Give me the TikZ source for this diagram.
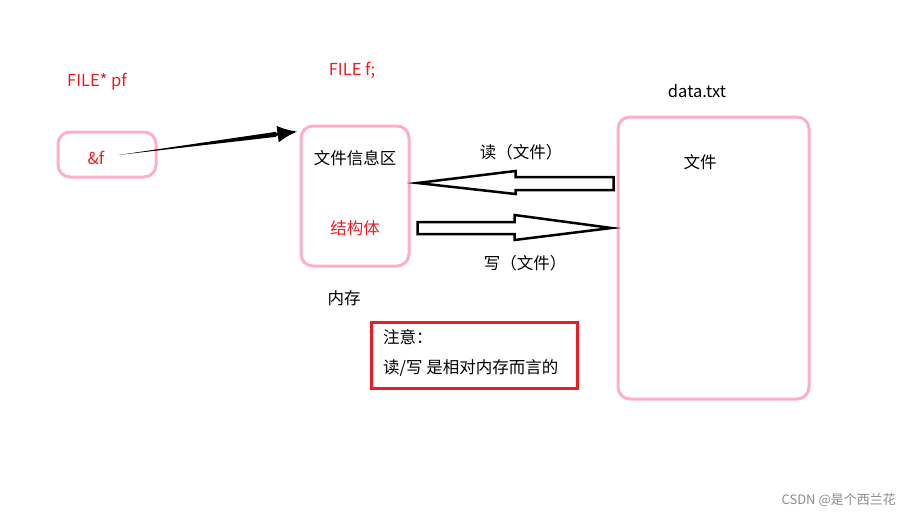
\documentclass[tikz,border=0pt]{standalone}
\usepackage{fontspec}
\setmainfont{Noto Sans CJK SC}
\usepackage{tikz}
\usetikzlibrary{positioning,arrows.meta,calc}
\definecolor{rose}{RGB}{255,174,201}
\definecolor{paintred}{RGB}{237,28,36}

\begin{document}
\begin{tikzpicture}[
  x=1pt, y=-1pt, >={Latex[length=20pt,width=17pt]},
  font=\fontsize{16.5}{20}\selectfont,
  mem/.style={draw=rose, line width=3pt, rounded corners=12pt, inner sep=0pt},
  lbl/.style={inner sep=0pt},
  hl/.style={lbl, text=paintred},
  blockarrow/.style={draw=black, line width=2.5pt, fill=white, line join=miter},
]
  \useasboundingbox (0,0) rectangle (900,527);

  % FILE* pf
  \node (pf-box)[mem, minimum width=98pt, minimum height=45pt] at (107,154.5) {};
  \node (pf-lbl)[hl] at (97,82) {FILE* pf};
  \node (amp)[hl] at (96,158) {\&f};

  % FILE f
  \node (info-box)[mem, minimum width=108pt, minimum height=140pt] at (355,196) {};
  \node (f-lbl)[hl] at (352,70) {FILE f;};
  \node (info)[lbl] at (355,158) {文件信息区};
  \node (struct)[hl] at (355,228) {结构体};
  \node (mem-lbl)[lbl] at (344,298) {内存};

  \coordinate (ptr-tail) at ($(amp.east)+(14,-3)$);
  \coordinate (ptr-tip) at ($(info-box.north west)+(-2,7)$);
  \fill (ptr-tail) -- ($(ptr-tail)!0.88!(ptr-tip)+(0,-2.5)$) -- ($(ptr-tail)!0.88!(ptr-tip)+(0,2.5)$) -- cycle;
  \draw[->, line width=3pt] ($(ptr-tail)!0.85!(ptr-tip)$) -- (ptr-tip);

  % data.txt
  \node (file-box)[mem, minimum width=191pt, minimum height=282pt] at (713.5,258) {};
  \node (data-lbl)[lbl] at (697,91) {data.txt};
  \node (file)[lbl] at (700,162) {文件};

  % read / write
  \coordinate (rd-tip) at ($(info-box.east)+(7,-13)$);
  \coordinate (wr-tip) at ($(file-box.west)+(-5,-30)$);
  \draw[blockarrow] (rd-tip) -- ++(98,-12) -- ++(0,6) -- ++(98,0) -- ++(0,13) -- ++(-98,0) -- ++(0,4) -- cycle;
  \draw[blockarrow] (wr-tip) -- ++(-97,-13) -- ++(0,7) -- ++(-97,0) -- ++(0,12) -- ++(97,0) -- ++(0,6) -- cycle;
  \node (rd-lbl)[lbl] at (521,152) {读（文件）};
  \node (wr-lbl)[lbl] at (525,263) {写（文件）};

  % note
  \node (note)[draw=paintred, line width=3pt, minimum width=206pt, minimum height=66pt] at (474.5,355.5) {};
  \node (note1)[lbl, anchor=west] at (383,337) {注意：};
  \node (note2)[lbl, anchor=west] at (383,368) {读/写 是相对内存而言的};

  \node (mark)[lbl, anchor=east, text=black!45, font=\fontsize{13}{15}\selectfont] at (896,500) {CSDN @是个西兰花};
\end{tikzpicture}
\end{document}
